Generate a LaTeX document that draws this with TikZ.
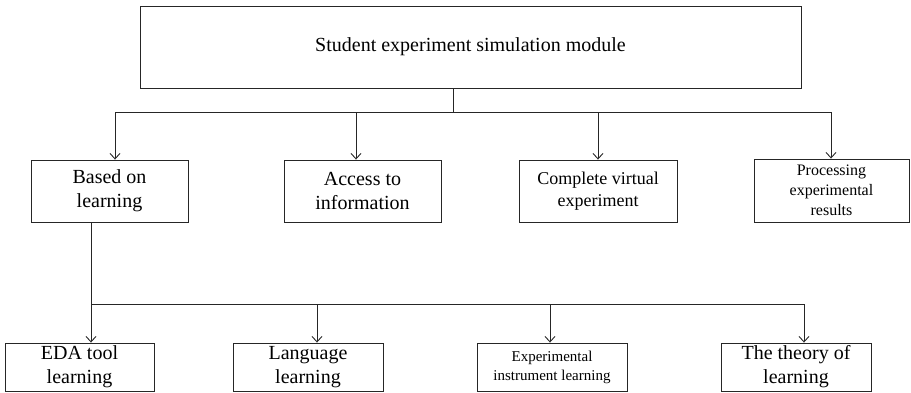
\documentclass[tikz,border=0pt]{standalone}
\usepackage{fontspec}
\setmainfont{Liberation Serif}
\usetikzlibrary{arrows.meta}
\begin{document}
\begin{tikzpicture}[x=1pt,y=-1pt,
  box/.style={draw=black!85,line width=0.9pt,rectangle,inner sep=0pt,align=center,text=black},
  big/.style={font=\fontsize{20}{24}\selectfont},
  mid/.style={font=\fontsize{18}{22}\selectfont},
  sml/.style={font=\fontsize{16}{20}\selectfont},
  tiny/.style={font=\fontsize{15}{19}\selectfont},
  link/.style={draw=black!85,line width=0.9pt},
  arr/.style={link,-{Straight Barb[length=5.5pt,width=10pt]}}]
\useasboundingbox (0,0) rectangle (911,392);
% top
\node[box,big,minimum width=661pt,minimum height=82pt] (top) at (470.5,47) {Student experiment simulation module};
% level 2
\node[box,big,minimum width=157pt,minimum height=62pt] (l1) at (109.5,191) {Based on\\learning};
\node[box,big,minimum width=157pt,minimum height=62pt] (l2) at (362.5,191) {Access to\\information};
\node[box,mid,minimum width=158pt,minimum height=62pt] (l3) at (598,191) {Complete virtual\\experiment};
\node[box,sml,minimum width=155pt,minimum height=63pt] (l4) at (831.5,190.5) {Processing\\experimental\\results};
% level 3
\node[box,big,minimum width=149pt,minimum height=48pt] (b1) at (79.5,367) {EDA tool\\learning};
\node[box,big,minimum width=150pt,minimum height=48pt] (b2) at (308,367) {Language\\learning};
\node[box,tiny,minimum width=150pt,minimum height=48pt] (b3) at (552,367) {Experimental\\instrument learning};
\node[box,big,minimum width=150pt,minimum height=48pt] (b4) at (796,367) {The theory of\\learning};
% connectors top -> level 2
\coordinate (j1) at (453,112);
\draw[link] (j1 |- top.south) -- (j1);
\draw[link] ([xshift=5.5pt]l1.north |- j1) -- ([xshift=-0.5pt]l4.north |- j1);
\draw[arr] ([xshift=5.5pt]l1.north |- j1) -- ([xshift=5.5pt]l1.north);
\draw[arr] ([xshift=-6.5pt]l2.north |- j1) -- ([xshift=-6.5pt]l2.north);
\draw[arr] (l3.north |- j1) -- (l3.north);
\draw[arr] ([xshift=-0.5pt]l4.north |- j1) -- ([xshift=-0.5pt]l4.north);
% connectors level 2 -> level 3
\coordinate (j2) at (91,304);
\draw[link] ([xshift=-18.5pt]l1.south) -- (j2);
\draw[link] (j2) -- ([xshift=8pt]b4.north |- j2);
\draw[arr] (j2) -- ([xshift=11.5pt]b1.north);
\draw[arr] ([xshift=9pt]b2.north |- j2) -- ([xshift=9pt]b2.north);
\draw[arr] ([xshift=-2pt]b3.north |- j2) -- ([xshift=-2pt]b3.north);
\draw[arr] ([xshift=8pt]b4.north |- j2) -- ([xshift=8pt]b4.north);
\end{tikzpicture}
\end{document}
